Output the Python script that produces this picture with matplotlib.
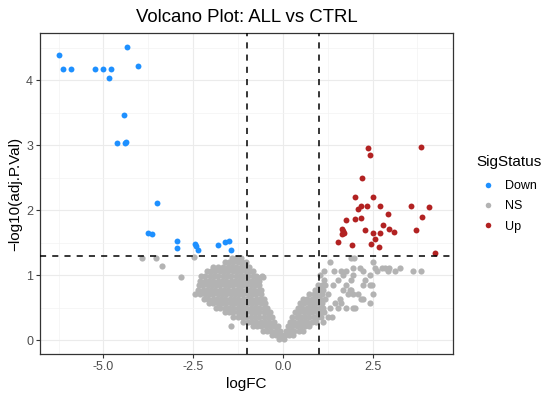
import numpy as np
import matplotlib
matplotlib.use("Agg")
import matplotlib.pyplot as plt
from matplotlib.lines import Line2D

plt.rcParams['font.family'] = ['Liberation Sans', 'DejaVu Sans']

# significant down-regulated genes (logFC, -log10 adj.P)
down_fc = [-6.25, -6.13, -5.91, -5.23, -5.01, -4.80, -4.86, -4.35, -4.05, -4.44,
           -4.62, -4.41, -4.38, -3.50, -3.76, -3.64, -2.95, -2.94, -2.44, -2.42,
           -2.37, -1.80, -1.62, -1.51, -1.44]
down_p = [4.39, 4.17, 4.17, 4.17, 4.17, 4.17, 4.04, 4.51, 4.22, 3.47,
          3.04, 3.03, 3.05, 2.11, 1.65, 1.63, 1.53, 1.42, 1.48, 1.45,
          1.39, 1.46, 1.52, 1.53, 1.39]

# significant up-regulated genes
up_fc = [2.36, 2.42, 3.84, 2.20, 2.01, 2.52, 2.09, 2.17, 2.35, 2.71,
         3.58, 4.08, 2.94, 1.77, 2.01, 2.18, 3.88, 2.79, 1.64, 1.68,
         1.66, 1.70, 2.29, 2.96, 3.09, 3.71, 2.52, 2.71, 2.56, 1.54,
         2.45, 1.93, 2.69, 4.23]
up_p = [2.96, 2.86, 2.97, 2.50, 2.20, 2.20, 2.02, 2.06, 2.06, 2.06,
        2.07, 2.05, 1.95, 1.85, 1.86, 1.88, 1.90, 1.77, 1.71, 1.68,
        1.64, 1.65, 1.70, 1.72, 1.66, 1.70, 1.65, 1.65, 1.56, 1.52,
        1.49, 1.47, 1.43, 1.35]

# non-significant genes, read row by row (-log10 adj.P level: logFC values)
ns_rows = {
    1.27: [-1.42, -1.30, -1.18],
    1.20: [-1.62, -1.50, -1.38, -1.26, -1.14, -1.02],
    1.13: [-1.95, -1.82, -1.66, -1.54, -1.42, -1.30, -1.18, -1.06, -0.94],
    1.06: [-2.12, -2.00, -1.88, -1.76, -1.64, -1.52, -1.40, -1.28, -1.16, -1.04, -0.92, -0.82],
    0.99: [-2.28, -2.16, -2.04, -1.92, -1.80, -1.68, -1.56, -1.44, -1.32, -1.20, -1.08, -0.96,
           -0.84, -0.74, -0.58],
    0.92: [-2.30, -2.18, -2.06, -1.94, -1.82, -1.70, -1.58, -1.46, -1.34, -1.22, -1.10, -0.98,
           -0.86, -0.74, -0.66],
    0.85: [-2.34, -2.22, -2.10, -1.98, -1.86, -1.74, -1.62, -1.50, -1.38, -1.26, -1.14, -1.02,
           -0.90, -0.78, -0.66],
    0.78: [-2.36, -2.24, -2.12, -2.00, -1.88, -1.76, -1.64, -1.52, -1.40, -1.28, -1.16, -1.04,
           -0.92, -0.80, -0.68, -0.60],
    0.71: [-2.46, -2.30, -2.18, -2.06, -1.94, -1.82, -1.70, -1.58, -1.46, -1.34, -1.22, -1.10,
           -0.98, -0.86, -0.74, -0.62],
    0.64: [-2.20, -2.08, -1.96, -1.84, -1.72, -1.60, -1.48, -1.36, -1.24, -1.12, -1.00, -0.88,
           -0.76, -0.64, -0.54],
    0.57: [-2.06, -1.94, -1.82, -1.70, -1.58, -1.46, -1.34, -1.22, -1.10, -0.98, -0.86, -0.74,
           -0.62, -0.50],
    0.50: [-1.86, -1.74, -1.62, -1.50, -1.38, -1.26, -1.14, -1.02, -0.90, -0.78, -0.66, -0.54,
           -0.44],
    0.43: [-1.62, -1.50, -1.38, -1.26, -1.14, -1.02, -0.90, -0.78, -0.66, -0.54, -0.42, -0.36],
    0.36: [-1.38, -1.26, -1.14, -1.02, -0.90, -0.78, -0.66, -0.54, -0.42, -0.30],
    0.29: [-1.10, -0.98, -0.86, -0.74, -0.62, -0.50, -0.38, -0.26],
    0.22: [-1.45, -0.84, -0.72, -0.60, -0.48, -0.36, -0.24, -0.14],
    0.15: [-0.56, -0.44, -0.32, -0.20, -0.08],
    0.08: [-0.30, -0.18, -0.06, 0.06, 0.16, 0.28],
    0.02: [-0.10, 0.02],
}
ns_rows_right = {
    0.15: [0.08, 0.20, 0.32, 0.44, 0.56],
    0.22: [0.14, 0.26, 0.38, 0.50, 0.62, 0.72],
    0.29: [0.20, 0.32, 0.44, 0.56, 0.68, 0.80, 0.92, 1.12],
    0.36: [0.26, 0.38, 0.50, 0.62, 0.74, 0.86, 0.98, 1.06, 1.26, 1.36],
    0.43: [0.34, 0.46, 0.58, 0.70, 0.82, 0.94, 1.06, 1.14],
    0.50: [0.42, 0.54, 0.66, 0.78, 0.90, 1.02, 1.12, 1.31, 1.54, 1.77, 1.96, 2.01],
    0.57: [0.48, 0.60, 0.72, 0.84, 0.96, 1.08, 1.45, 1.63, 2.42],
    0.64: [0.56, 0.68, 0.80, 0.92, 1.04, 1.16, 1.59, 2.19, 2.24],
    0.71: [0.74, 0.86, 0.98, 1.10, 1.26, 1.82, 1.96, 2.10, 2.52],
    0.78: [0.90, 1.02, 1.12, 1.68, 1.87, 1.91],
    0.85: [0.98, 1.10, 1.17, 1.40, 1.77, 2.24, 2.44, 2.47],
    0.93: [1.15, 1.54, 1.91, 2.28],
    1.00: [1.03, 1.68, 1.96, 2.42],
    1.07: [1.15, 1.42, 1.63, 1.77, 2.24, 2.61, 2.93, 3.12, 3.63, 3.84],
    1.12: [1.96, 2.14, 2.56, 2.75, 2.84, 2.97, 3.26],
    1.21: [1.31, 2.52],
    1.27: [1.91, 1.99],
}
# isolated NS genes
ns_extra_fc = [-3.93, -3.54, -3.37, -2.84, -2.48, -0.73, -0.55]
ns_extra_p = [1.26, 1.27, 1.15, 0.97, 1.28, 0.98, 0.98]

ns_fc, ns_p = list(ns_extra_fc), list(ns_extra_p)
for rows in (ns_rows, ns_rows_right):
    for lev, xs in rows.items():
        ns_fc += xs
        ns_p += [lev] * len(xs)

fig = plt.figure(figsize=(5.5, 3.99), dpi=100)
ax = fig.add_axes([0.0727, 0.1128, 0.7509, 0.8045])

ax.scatter(ns_fc, ns_p, s=20, color='#B3B3B3', linewidths=0, zorder=2)
ax.scatter(down_fc, down_p, s=18, color='#1E90FF', linewidths=0, zorder=3)
ax.scatter(up_fc, up_p, s=18, color='#B22222', linewidths=0, zorder=3)

dash = (0, (4, 4))
ax.axvline(-1, color='black', lw=1.1, ls=dash, zorder=4)
ax.axvline(1, color='black', lw=1.1, ls=dash, zorder=4)
ax.axhline(-np.log10(0.05), color='black', lw=1.1, ls=dash, zorder=4)

ax.set_xlim(-6.77, 4.74)
ax.set_ylim(-0.21, 4.73)
ax.set_xticks([-5, -2.5, 0, 2.5])
ax.set_xticklabels(['-5.0', '-2.5', '0.0', '2.5'])
ax.set_yticks([0, 1, 2, 3, 4])
ax.set_xticks([-6.25, -3.75, -1.25, 1.25, 3.75], minor=True)
ax.set_yticks([0.5, 1.5, 2.5, 3.5, 4.5], minor=True)
ax.grid(which='major', color='#EBEBEB', lw=0.8, zorder=0)
ax.grid(which='minor', color='#F3F3F3', lw=0.5, zorder=0)
ax.set_axisbelow(True)
ax.tick_params(which='major', length=3, width=0.8, color='#333333',
               labelcolor='#4D4D4D', labelsize=9, pad=2)
ax.tick_params(which='minor', length=0)
for sp in ax.spines.values():
    sp.set_color('#333333')
    sp.set_linewidth(0.9)

ax.set_xlabel('logFC', fontsize=11, labelpad=3)
ax.set_ylabel('\u2212log10(adj.P.Val)', fontsize=11, labelpad=3)
ax.set_title('Volcano Plot: ALL vs CTRL', fontsize=13.4, pad=8)

fig.text(0.866, 0.593, 'SigStatus', fontsize=11, ha='left', va='center')
handles = [Line2D([], [], ls='', marker='o', ms=4, mec='none', color=c)
           for c in ['#1E90FF', '#B3B3B3', '#B22222']]
fig.legend(handles, ['Down', 'NS', 'Up'],
           loc='upper left', bbox_to_anchor=(0.873, 0.548), frameon=False,
           fontsize=9, handletextpad=0.8, labelspacing=0.65, handlelength=1.2,
           borderaxespad=0, borderpad=0)

fig.savefig('out.png', dpi=100)
